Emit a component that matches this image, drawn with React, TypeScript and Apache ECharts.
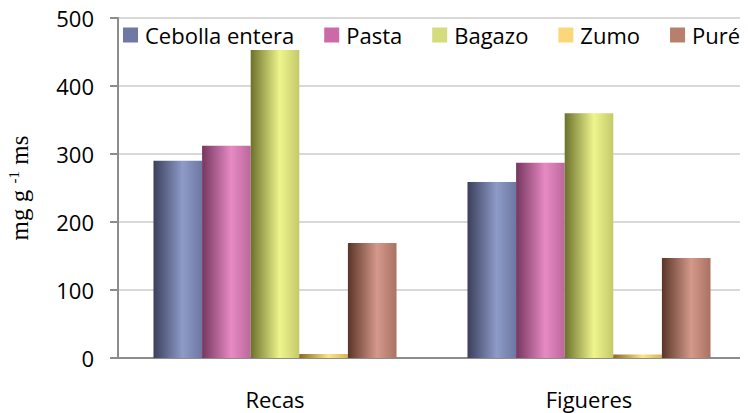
import React, { useEffect, useRef } from "react";
import * as echarts from "echarts";

const categories = ["Recas", "Figueres"];
const seriesNames = ["Cebolla entera", "Pasta", "Bagazo", "Zumo", "Puré"];
const cebolla = [290, 259];
const pasta = [312, 287];
const bagazo = [453, 360];
const zumo = [6, 5];
const pure = [169, 147];

const legendColors = ["#7079a4", "#cc6aa8", "#d4dc7c", "#fcd77a", "#b87f6c"];
const gradStops = [
  ["#3b3f5c", "#8e9bc8", "#6d78a2"],
  ["#76365f", "#e78ac4", "#bb689c"],
  ["#6c712c", "#eef58c", "#c4c96a"],
  ["#8a6a20", "#fde48a", "#d6b35a"],
  ["#5a3528", "#d4998a", "#a97262"],
];

function grad(i: number) {
  const [a, b, c] = gradStops[i];
  return new echarts.graphic.LinearGradient(0, 0, 1, 0, [
    { offset: 0, color: a },
    { offset: 0.6, color: b },
    { offset: 1, color: c },
  ]);
}

const FONT = "Open Sans";

export default function App() {
  const ref = useRef<HTMLDivElement>(null);
  useEffect(() => {
    if (!ref.current) return;
    const chart = echarts.init(ref.current, null, { renderer: "svg" });
    const data = [cebolla, pasta, bagazo, zumo, pure];
    chart.setOption({
      animation: false,
      textStyle: { fontFamily: FONT },
      grid: { left: 118, right: 2, top: 18, bottom: 55, outerBoundsMode: "none", containLabel: false },
      legend: {
        left: 123,
        top: 24,
        width: 660,
        padding: 0,
        itemWidth: 15,
        itemHeight: 15,
        itemGap: 30,
        icon: "rect",
        textStyle: { fontSize: 22, color: "#000", fontFamily: FONT, padding: [0, 0, 0, 2] },
        data: seriesNames.map((n, i) => ({ name: n, itemStyle: { color: legendColors[i] } })),
      },
      xAxis: {
        type: "category",
        data: categories,
        axisLine: { lineStyle: { color: "#8c8c8c", width: 2 } },
        axisTick: { show: false },
        axisLabel: { fontSize: 22, color: "#000", margin: 30, fontFamily: FONT },
      },
      yAxis: {
        type: "value",
        min: 0,
        max: 500,
        interval: 100,
        name: "{a|mg g }{s|-1}{a| ms}",
        nameLocation: "middle",
        nameRotate: 90,
        nameGap: 86,
        nameTextStyle: {
          fontFamily: "Liberation Serif",
          fontSize: 25,
          color: "#000",
          rich: {
            a: { fontFamily: "Liberation Serif", fontSize: 25, color: "#000" },
            s: { fontFamily: "Liberation Serif", fontSize: 15, color: "#000", verticalAlign: "top", padding: [0, 0, 11, 0] },
          },
        },
        axisLine: { show: true, lineStyle: { color: "#8c8c8c", width: 2 } },
        axisTick: { show: true, length: 8, lineStyle: { color: "#8c8c8c", width: 2 } },
        axisLabel: { fontSize: 22, color: "#000", margin: 24, fontFamily: FONT },
        splitLine: { lineStyle: { color: "#d9d9d9", width: 2 } },
      },
      series: seriesNames.map((n, i) => ({
        name: n,
        type: "bar",
        data: data[i],
        barGap: "0%",
        barCategoryGap: "22.6%",
        itemStyle: { color: grad(i) },
      })),
    });
    return () => chart.dispose();
  }, []);
  return <div ref={ref} style={{ width: 748, height: 413, marginLeft: -8, marginTop: -8 }} />;
}
